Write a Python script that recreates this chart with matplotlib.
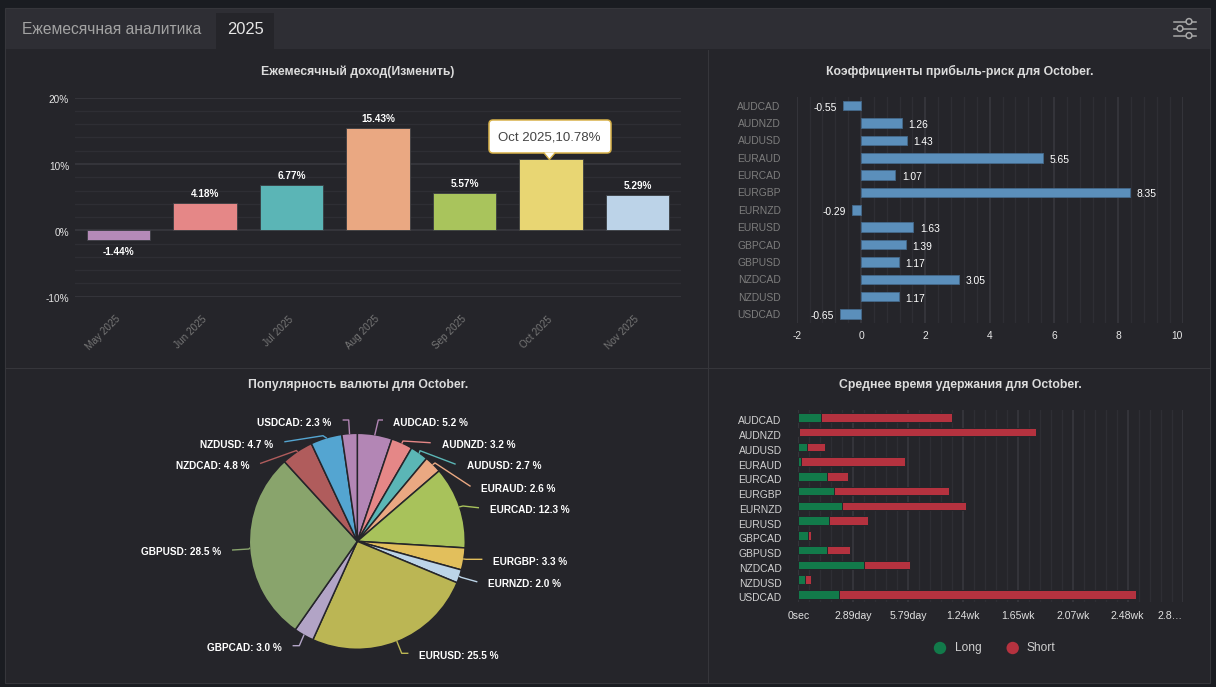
import numpy as np
import matplotlib
matplotlib.use("Agg")
import matplotlib.pyplot as plt
from matplotlib.patches import FancyBboxPatch, Rectangle, Polygon, Circle
from matplotlib.transforms import ScaledTranslation

W, H = 1216, 687
plt.rcParams['font.family'] = ['Liberation Sans', 'DejaVu Sans']
plt.rcParams['axes.unicode_minus'] = False

# ---- data ----
MONTHS = ['May 2025', 'Jun 2025', 'Jul 2025', 'Aug 2025', 'Sep 2025', 'Oct 2025', 'Nov 2025']
MONTHLY_RETURN = [-1.44, 4.18, 6.77, 15.43, 5.57, 10.78, 5.29]
PAIRS = ['AUDCAD', 'AUDNZD', 'AUDUSD', 'EURAUD', 'EURCAD', 'EURGBP', 'EURNZD',
         'EURUSD', 'GBPCAD', 'GBPUSD', 'NZDCAD', 'NZDUSD', 'USDCAD']
REWARD_RISK = [-0.55, 1.26, 1.43, 5.65, 1.07, 8.35, -0.29, 1.63, 1.39, 1.17, 3.05, 1.17, -0.65]
POPULARITY = [5.2, 3.2, 2.7, 2.6, 12.3, 3.3, 2.0, 25.5, 3.0, 28.5, 4.8, 4.7, 2.3]
HOLD_LONG_DAYS = [1.21, 0.05, 0.46, 0.14, 1.53, 1.88, 2.29, 1.64, 0.53, 1.53, 3.48, 0.33, 2.16]
HOLD_SHORT_DAYS = [6.90, 12.49, 0.95, 5.49, 1.09, 6.07, 6.56, 2.04, 0.14, 1.21, 2.41, 0.34, 15.66]
HOLD_TICK_LABELS = ['0sec', '2.89day', '5.79day', '1.24wk', '1.65wk', '2.07wk', '2.48wk', '2.8…']
HOLD_TICK_STEP_DAYS = 2.893

# ---- palette ----
OUTER = '#1a1c21'
PANEL = '#25252a'
HEADER = '#2e2e34'
RULE = '#36363b'
GRID_MAJOR = '#38383e'
GRID_MINOR = '#2e2e34'
BAR_COLORS = ['#b58ab8', '#e58787', '#5bb5b6', '#eaa882', '#a9c45c', '#e8d673', '#bcd3e8']
PIE_COLORS = ['#b386b5', '#e58787', '#5bb6b6', '#eaa882', '#a8c25b', '#e2bf5c', '#bcd4e8',
              '#bbb654', '#b2a4c6', '#89a46c', '#b05c5c', '#54a5d1', '#b386b5']
RR_COLOR = '#5b8fbb'
LONG_COLOR = '#127a4a'
SHORT_COLOR = '#b5323f'


def px(size):
    return size * 0.72


def axes_at(left, top, right, bottom, **kw):
    return fig.add_axes([left / W, 1 - bottom / H, (right - left) / W, (bottom - top) / H], **kw)


fig = plt.figure(figsize=(W / 100, H / 100), dpi=100, facecolor=OUTER)

# ---- page furniture ----
bg = fig.add_axes([0, 0, 1, 1], zorder=0)
bg.set_xlim(0, W)
bg.set_ylim(H, 0)
bg.axis('off')
bg.add_patch(Rectangle((5, 8), 1205, 675, fc=PANEL, ec=RULE, lw=0.8))
bg.add_patch(Rectangle((5.5, 8.5), 1204, 40.5, fc=HEADER, ec='none'))
bg.add_patch(Rectangle((216, 13), 58, 36, fc=PANEL, ec='none'))
bg.plot([707.8, 707.8], [50, 682], color=RULE, lw=0.8)
bg.plot([6, 1209], [367.5, 367.5], color=RULE, lw=0.8)
bg.text(22, 30, 'Ежемесячная аналитика', color='#a3a3a3', fontsize=px(15.6), va='center')
bg.text(245, 30, '2025', color='#e6e6e6', fontsize=px(16.5), va='center', ha='center')
for y, icon_x in zip([21.5, 28.5, 35.5], [1189, 1180, 1189]):
    bg.plot([1174, 1196], [y, y], color='#a8a8a8', lw=1.1)
    bg.add_patch(Circle((icon_x, y), 2.9, fc=HEADER, ec='#a8a8a8', lw=1.1, zorder=3))

title_style = dict(color='#dcdcdc', fontsize=px(12.3), fontweight='bold', ha='center', va='center')
bg.text(358, 71.7, 'Ежемесячный доход(Изменить)', **title_style)
bg.text(960, 71.7, 'Коэффициенты прибыль-риск для October.', **title_style)
bg.text(358, 384.7, 'Популярность валюты для October.', **title_style)
bg.text(960, 384.7, 'Среднее время удержания для October.', **title_style)

# ---- monthly return columns ----
ax = axes_at(75.3, 97.7, 680.7, 296.7, zorder=1)
ax.patch.set_alpha(0)
ax.set_xlim(-0.5, 6.5)
ax.set_ylim(-10, 20)
for s in ax.spines.values():
    s.set_visible(False)
ax.set_yticks([-10, 0, 10, 20], ['-10%', '0%', '10%', '20%'])
ax.set_yticks(np.arange(-10, 21, 2), minor=True)
ax.grid(True, axis='y', which='major', color=GRID_MAJOR, lw=1.2)
ax.grid(True, axis='y', which='minor', color=GRID_MINOR, lw=1)
ax.set_axisbelow(True)
ax.tick_params(axis='both', which='both', length=0)
ax.tick_params(axis='y', labelsize=px(10), labelcolor='#e4e4e4', pad=4.5)
# percent labels sit slightly below their gridlines
percent_drop = ScaledTranslation(0, -1.5 / 100, fig.dpi_scale_trans)
for label in ax.get_yticklabels():
    label.set_transform(label.get_transform() + percent_drop)
ax.set_xticks(range(len(MONTHS)))
ax.set_xticklabels(MONTHS, rotation=45, ha='right', va='center', rotation_mode='anchor',
                   fontsize=px(10), color='#767676')
ax.tick_params(axis='x', pad=15)
ax.bar(range(len(MONTHS)), MONTHLY_RETURN, width=0.73, color=BAR_COLORS,
       edgecolor='#3a3d42', lw=0.6, zorder=2)
for i, v in enumerate(MONTHLY_RETURN):
    ax.annotate(f'{v:.2f}%', (i, v), xytext=(0, px(9) if v >= 0 else px(-12)),
                textcoords='offset points', ha='center', va='center', color='white',
                fontsize=px(10), fontweight='bold', zorder=3)

# ---- reward/risk bars ----
ax = axes_at(796.7, 97, 1182.7, 322.7, zorder=1)
ax.patch.set_alpha(0)
ax.set_xlim(-2, 10)
ax.set_ylim(len(PAIRS) - 0.5, -0.5)
for s in ax.spines.values():
    s.set_visible(False)
ax.set_xticks(np.arange(-2, 11, 2))
ax.set_xticks(np.arange(-2, 10.01, 0.4), minor=True)
ax.grid(True, axis='x', which='major', color=GRID_MAJOR, lw=1.2)
ax.grid(True, axis='x', which='minor', color=GRID_MINOR, lw=1)
ax.set_axisbelow(True)
ax.tick_params(axis='both', which='both', length=0)
ax.tick_params(axis='x', labelsize=px(10.3), labelcolor='#e8e8e8', pad=6)
ax.get_xticklabels()[-1].set_ha('right')
ax.set_yticks(range(len(PAIRS)), PAIRS)
ax.tick_params(axis='y', labelsize=px(10.3), labelcolor='#7d7d7d', pad=11.5)
ax.barh(range(len(PAIRS)), REWARD_RISK, height=0.55, color=RR_COLOR, edgecolor='#44698b', lw=0.6, zorder=2)
for i, v in enumerate(REWARD_RISK):
    ax.annotate(f'{v:.2f}', (v, i), xytext=(px(6.5) if v >= 0 else px(-6), px(-2)),
                textcoords='offset points', ha='left' if v >= 0 else 'right', va='center',
                color='white', fontsize=px(10.3), zorder=3)

# ---- currency popularity pie ----
cx, cy, r = 357.3, 541.3, 108
ax = axes_at(cx - r, cy - r, cx + r, cy + r, zorder=1)
ax.patch.set_alpha(0)
ax.pie(POPULARITY, colors=PIE_COLORS, startangle=90, counterclock=False, radius=1,
       wedgeprops=dict(edgecolor='#25252a', lw=1.1), normalize=True)
ax.set_xlim(-1, 1)
ax.set_ylim(-1, 1)

# label layout per slice: bend point, line end, text anchor
LEADER_BEND = [(378.3, 420), (403, 441), (420, 450.7), (435, 463), (463, 506), (466, 559.3),
               (461, 577.3), (401.7, 653.3), (299.3, 645.7), (249, 549), (296.5, 450.5),
               (323, 435.7), (348.7, 420)]
LEADER_END = [(382.3, 420), (430, 442.7), (455, 464), (470, 486), (478.3, 507.7), (481.7, 559.3),
              (476.7, 581.7), (407.7, 653.3), (293.3, 645.7), (232.7, 550), (260.7, 463.3),
              (285, 441.7), (343.3, 420)]
LABEL_AT = [(393.3, 422.8), (441.7, 444.8), (466.7, 465.8), (481, 488.8), (490, 509.8), (493.3, 561.8),
            (487.7, 583.8), (419.3, 655.8), (282, 647.8), (220.7, 551.8), (249.3, 465.8),
            (273.3, 444.8), (331.7, 422.8)]

fg = fig.add_axes([0, 0, 1, 1], zorder=4)
fg.set_xlim(0, W)
fg.set_ylim(H, 0)
fg.axis('off')
total = sum(POPULARITY)
cum = 0.0
for name, v, col, bend, end, at in zip(PAIRS, POPULARITY, PIE_COLORS, LEADER_BEND, LEADER_END, LABEL_AT):
    mid = 2 * np.pi * (cum + v / 2) / total
    cum += v
    start = (cx + r * np.sin(mid), cy - r * np.cos(mid))
    fg.plot([start[0], bend[0], end[0]], [start[1], bend[1], end[1]], color=col, lw=1)
    fg.text(at[0], at[1], f'{name}: {v:.1f} %', color='white', fontsize=px(10), fontweight='bold',
            ha='left' if end[0] > cx else 'right', va='center')

# ---- average holding time, stacked long/short ----
ax = axes_at(798.3, 410, 1182.5, 601.7, zorder=1)
ax.patch.set_alpha(0)
n_ticks = len(HOLD_TICK_LABELS)
ax.set_xlim(0, (n_ticks - 1) * HOLD_TICK_STEP_DAYS)
ax.set_ylim(len(PAIRS) - 0.5, -0.5)
for s in ax.spines.values():
    s.set_visible(False)
ax.set_xticks([i * HOLD_TICK_STEP_DAYS for i in range(n_ticks)], HOLD_TICK_LABELS)
ax.set_xticks(np.arange(0, (n_ticks - 1) * 5 + 1) * HOLD_TICK_STEP_DAYS / 5, minor=True)
ax.grid(True, axis='x', which='major', color=GRID_MAJOR, lw=1.2)
ax.grid(True, axis='x', which='minor', color=GRID_MINOR, lw=1)
ax.set_axisbelow(True)
ax.tick_params(axis='both', which='both', length=0)
ax.tick_params(axis='x', labelsize=px(10.5), labelcolor='#e0e0e0', pad=6.8)
ax.get_xticklabels()[-1].set_ha('right')
ax.set_yticks(range(len(PAIRS)), PAIRS)
ax.tick_params(axis='y', labelsize=px(10.3), labelcolor='#d2d2d2', pad=12)
# category names sit a little below the centre of their bars
label_drop = ScaledTranslation(0, -3 / 100, fig.dpi_scale_trans)
for label in ax.get_yticklabels():
    label.set_transform(label.get_transform() + label_drop)
ys = np.arange(len(PAIRS))
ax.barh(ys, HOLD_LONG_DAYS, height=0.57, color=LONG_COLOR, edgecolor=PANEL, lw=0.7, zorder=2)
ax.barh(ys, HOLD_SHORT_DAYS, left=HOLD_LONG_DAYS, height=0.57, color=SHORT_COLOR,
        edgecolor=PANEL, lw=0.7, zorder=2)

# legend for the stacked bars
for x, tx, col, label in [(940, 954.7, LONG_COLOR, 'Long'), (1012.7, 1027, SHORT_COLOR, 'Short')]:
    fg.add_patch(Circle((x, 648), 6.2, fc=col, ec='none'))
    fg.text(tx, 648, label, color='#cfcfcf', fontsize=px(12), va='center')

# ---- tooltip on the October column ----
fg.add_patch(FancyBboxPatch((491, 122), 118, 29, boxstyle='round,pad=2,rounding_size=4',
                            fc='white', ec='#d8b24a', lw=1.1, zorder=5))
fg.add_patch(Polygon([(544, 152.5), (549.4, 159.5), (555, 152.5)], closed=True, fc='white',
                     ec='none', zorder=6))
fg.plot([544, 549.4, 555], [153, 159.5, 153], color='#d8b24a', lw=1, zorder=6)
fg.text(549.5, 137.5, 'Oct 2025,10.78%', color='#444444', fontsize=px(13.2), ha='center', va='center', zorder=7)

fig.savefig('out.png', dpi=100, facecolor=OUTER)
